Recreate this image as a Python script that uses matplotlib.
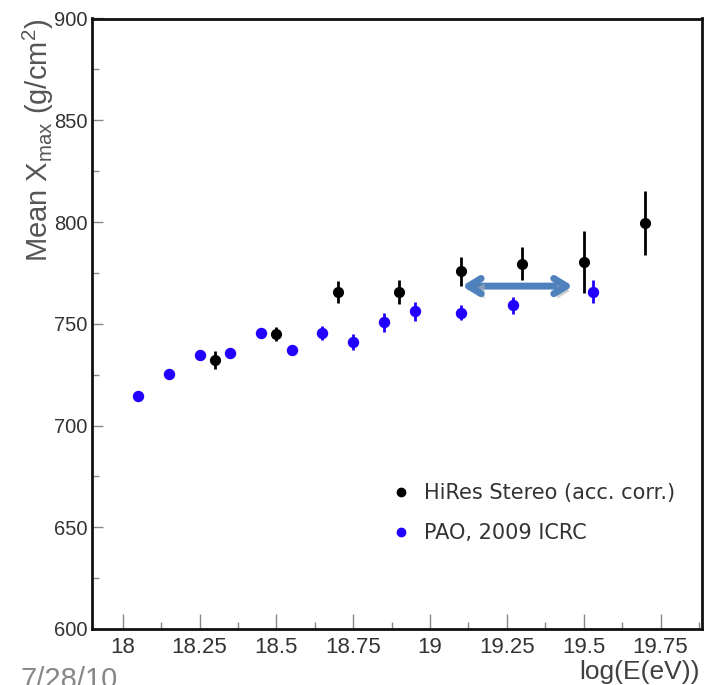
import matplotlib
matplotlib.use("Agg")
import matplotlib.pyplot as plt
from matplotlib.ticker import MultipleLocator, FixedLocator
from matplotlib.lines import Line2D
import matplotlib.patheffects as pe
from matplotlib import font_manager

# ---- data ----
hires_x = [18.3, 18.5, 18.7, 18.9, 19.1, 19.3, 19.5, 19.7]
hires_y = [732.0, 744.9, 765.6, 765.6, 775.8, 779.5, 780.3, 799.6]
hires_err = [4.4, 3.5, 5.6, 6.0, 7.1, 8.0, 15.4, 15.6]

pao_x = [18.05, 18.15, 18.25, 18.35, 18.45, 18.55, 18.65, 18.75, 18.85, 18.95, 19.1, 19.27, 19.53]
pao_y = [714.3, 725.1, 734.6, 735.6, 745.4, 737.0, 745.4, 741.1, 750.7, 756.1, 755.5, 759.0, 765.8]
pao_err = [1.5, 1.5, 2.0, 2.0, 2.0, 2.5, 3.5, 4.0, 4.7, 4.7, 3.5, 4.0, 5.5]

xticks = [18, 18.25, 18.5, 18.75, 19, 19.25, 19.5, 19.75]
xtick_labels = ["18", "18.25", "18.5", "18.75", "19", "19.25", "19.5", "19.75"]
yticks = [600, 650, 700, 750, 800, 850, 900]

arrow_x = [19.104, 19.465]
arrow_y = 768.5

legend_labels = ["HiRes Stereo (acc. corr.)", "PAO, 2009 ICRC"]

# ---- fonts ----
avail = {f.name for f in font_manager.fontManager.ttflist}
narrow = "Liberation Sans Narrow" if "Liberation Sans Narrow" in avail else "Liberation Sans"

fig = plt.figure(figsize=(7.05, 6.85), dpi=100)
ax = fig.add_axes([92 / 705, 56 / 685, 610 / 705, 610.5 / 685])

blue = "#2200ff"
ax.errorbar(pao_x, pao_y, yerr=pao_err, fmt="o", color=blue, ms=7.2,
            elinewidth=2, capsize=0, zorder=3)
ax.errorbar(hires_x, hires_y, yerr=hires_err, fmt="o", color="black", ms=7.0,
            elinewidth=2, capsize=0, zorder=4)

# arrow
ax.annotate("", xy=(arrow_x[1], arrow_y), xytext=(arrow_x[0], arrow_y),
            arrowprops=dict(arrowstyle="<->,head_length=0.9,head_width=0.55",
                            color="#4f81bd", lw=5, shrinkA=0, shrinkB=0,
                            path_effects=[pe.SimplePatchShadow(offset=(2.5, -3.5),
                                                               shadow_rgbFace="#b0b0b0", alpha=0.6),
                                          pe.Normal()]),
            zorder=5)

ax.set_xlim(17.9, 19.885)
ax.set_ylim(600, 900)

ax.xaxis.set_major_locator(FixedLocator(xticks))
ax.set_xticklabels(xtick_labels)
ax.xaxis.set_minor_locator(MultipleLocator(0.125))
ax.yaxis.set_major_locator(FixedLocator(yticks))
ax.yaxis.set_minor_locator(MultipleLocator(25))

ax.tick_params(axis="both", which="both", direction="in", color="#888888", width=1)
ax.tick_params(axis="x", which="major", length=11, pad=6)
ax.tick_params(axis="x", which="minor", length=5)
ax.tick_params(axis="y", which="major", length=8, pad=3)
ax.tick_params(axis="y", which="minor", length=5)

for lab in ax.get_xticklabels():
    lab.set_fontfamily(narrow)
    lab.set_fontsize(16)
    lab.set_color("#333333")
for lab in ax.get_yticklabels():
    lab.set_fontfamily("Liberation Sans")
    lab.set_fontsize(14.5)
    lab.set_color("#333333")

for s in ax.spines.values():
    s.set_linewidth(2)
    s.set_color("#111111")

# y label
fig.text(38 / 705, 1 - 140 / 685, r"Mean X$_{\mathregular{max}}$ (g/cm$^{\mathregular{2}}$)",
         rotation=90, ha="center", va="center", fontsize=21, color="#555555",
         family="Liberation Sans")

# x label
fig.text(700 / 705, 0.5 / 685, "log(E(eV))", ha="right", va="bottom",
         fontsize=19, color="#404040", family=narrow)

# date text
fig.text(20 / 705, 1 - 694 / 685, "7/28/10", ha="left", va="bottom",
         fontsize=21, color="#888888", family="Liberation Sans")

# legend
handles = [Line2D([], [], marker="o", ls="none", color="black", ms=6),
           Line2D([], [], marker="o", ls="none", color=blue, ms=6)]
leg = ax.legend(handles, legend_labels, loc="upper left",
                bbox_to_anchor=((384 - 92) / 610, (685 - 475 - 56) / 610.5),
                frameon=False, fontsize=15, handlelength=0.8, handletextpad=0.7,
                labelspacing=0.95, borderaxespad=0)
for t in leg.get_texts():
    t.set_color("#333333")

fig.savefig("out.png", dpi=100)
